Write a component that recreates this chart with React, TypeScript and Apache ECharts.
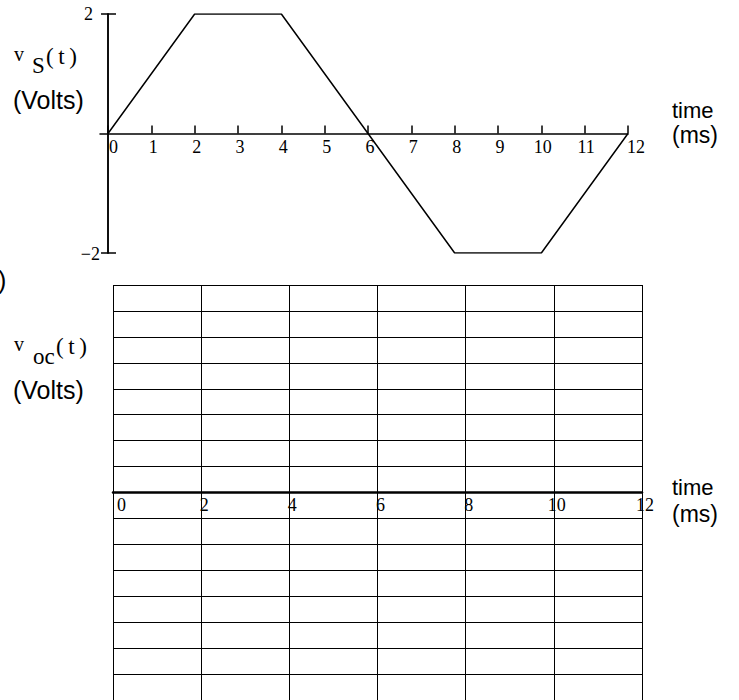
import React, { useEffect, useRef } from "react";
import * as echarts from "echarts";

// Source waveform v_S(t): trapezoid wave, time in ms, volts
const waveTime = [0, 2, 4, 8, 10, 12];
const waveVolts = [0, 2, 2, -2, -2, 0];

// Tick values
const topTimeTicks = [0, 1, 2, 3, 4, 5, 6, 7, 8, 9, 10, 11, 12];
const topVoltTicks = [-2, 2];
const gridTimeMin = 0;
const gridTimeMax = 12;
const gridTimeStep = 2;
const gridRowMin = -8;
const gridRowMax = 8;

const SERIF = '"Liberation Serif", "Times New Roman", serif';
const SANS = '"Liberation Sans", Arial, Helvetica, sans-serif';

// Layout of the upper plot
const TOP = { left: 100, top: 14, width: 528, height: 239 };
const TIME_LEAD = -0.185; // time axis runs a little past t = 0 on the left
const VOLT_MIN = -2;
const VOLT_MAX = 2;
// Layout of the lower (blank) grid
const BOT = { left: 113, top: 285, width: 529, height: 416 };

const tickText = { fontFamily: SERIF, fontSize: 18, color: "#000" };

export default function App() {
  const ref = useRef<HTMLDivElement>(null);

  useEffect(() => {
    if (!ref.current) return;
    const chart = echarts.init(ref.current, null, { renderer: "svg" });

    // pixel shifts that put each axis on the zero of the other one
    const yAxisShift = (-TIME_LEAD / (12 - TIME_LEAD)) * TOP.width;
    const xAxisShift = (VOLT_MIN / (VOLT_MIN - VOLT_MAX)) * TOP.height;
    const gridAxisShift = (gridRowMin / (gridRowMin - gridRowMax)) * BOT.height;

    const text = (t: string, x: number, y: number, size: number, family: string) => ({
      type: "text",
      x,
      y,
      style: {
        text: t,
        fontSize: size,
        fontFamily: family,
        fill: "#000",
        align: "left",
        verticalAlign: "middle",
        textAlign: "left",
        textVerticalAlign: "middle",
      },
    });

    const line = { color: "#000", width: 1.5 };

    chart.setOption({
      animation: false,
      backgroundColor: "#fff",
      grid: [TOP, BOT],
      xAxis: [
        {
          gridIndex: 0,
          type: "value",
          position: "bottom",
          min: TIME_LEAD,
          max: 12,
          offset: -xAxisShift,
          axisLine: { onZero: false, lineStyle: line },
          axisTick: { inside: true, length: 8, customValues: topTimeTicks, lineStyle: line },
          axisLabel: {
            customValues: topTimeTicks,
            margin: 4,
            align: "center",
            formatter: (v: number) => {
              if (v === 0) return `{z|${v}}`;
              if (v === 12) return `{e|${v}}`;
              return v >= 10 ? `{w|${v}}` : `{d|${v}}`;
            },
            rich: {
              z: { ...tickText, padding: [0, 0, 0, 11] },
              d: { ...tickText, padding: [0, 0, 0, 4] },
              w: { ...tickText, padding: [0, 0, 0, 3] },
              e: { ...tickText, padding: [0, 0, 0, 16] },
            },
          },
          splitLine: { show: false },
        },
        {
          gridIndex: 1,
          type: "value",
          position: "bottom",
          min: gridTimeMin,
          max: gridTimeMax,
          interval: gridTimeStep,
          offset: -gridAxisShift,
          axisLine: { onZero: false, lineStyle: { color: "#000", width: 2.5 } },
          axisTick: { show: false },
          axisLabel: {
            margin: 4,
            align: "center",
            formatter: (v: number) => (v === 0 ? `{z|${v}}` : `{d|${v}}`),
            rich: {
              z: { ...tickText, padding: [0, 0, 0, 17] },
              d: { ...tickText, padding: [0, 0, 0, 6] },
            },
          },
          splitLine: { show: true, lineStyle: { color: "#000", width: 1 } },
        },
      ],
      yAxis: [
        {
          gridIndex: 0,
          type: "value",
          position: "left",
          min: VOLT_MIN,
          max: VOLT_MAX,
          offset: -yAxisShift,
          axisLine: { onZero: false, lineStyle: line },
          axisTick: { length: 7, customValues: topVoltTicks, lineStyle: line },
          axisLabel: {
            customValues: topVoltTicks,
            margin: 8,
            align: "right",
            formatter: (v: number) => (v < 0 ? `{n|\u2212${Math.abs(v)}}` : `{p|${v}}`),
            rich: {
              p: { ...tickText, padding: [0, 7, 0, 0] },
              n: { ...tickText, padding: [2, 0, 0, 0] },
            },
          },
          splitLine: { show: false },
        },
        {
          gridIndex: 0,
          type: "value",
          position: "left",
          min: VOLT_MIN,
          max: VOLT_MAX,
          offset: -yAxisShift,
          axisLine: { onZero: false, lineStyle: line },
          axisTick: { inside: true, length: 8, customValues: topVoltTicks, lineStyle: line },
          axisLabel: { show: false },
          splitLine: { show: false },
        },
        {
          gridIndex: 1,
          type: "value",
          position: "left",
          min: gridRowMin,
          max: gridRowMax,
          interval: 1,
          axisLine: { show: false },
          axisTick: { show: false },
          axisLabel: { show: false },
          splitLine: { show: true, lineStyle: { color: "#000", width: 1 } },
        },
      ],
      series: [
        {
          type: "line",
          xAxisIndex: 0,
          yAxisIndex: 0,
          data: waveTime.map((t, i) => [t, waveVolts[i]]),
          symbol: "none",
          lineStyle: line,
          silent: true,
        },
      ],
      graphic: [
        // v_S(t) label
        text("v", 14, 54, 20, SERIF),
        text("S", 32, 65, 23, SERIF),
        text("(\u2009t\u2009)", 46, 56, 23, SERIF),
        text("(Volts)", 13, 100, 25, SANS),
        text("time", 672, 110, 22, SANS),
        text("(ms)", 672, 135, 23, SANS),
        text(")", -2, 280, 25, SANS),
        // v_oc(t) label
        text("v", 14, 344, 20, SERIF),
        text("oc", 33, 356, 23, SERIF),
        text("(\u2009t\u2009)", 56, 346, 23, SERIF),
        text("(Volts)", 13, 390, 25, SANS),
        text("time", 672, 487, 22, SANS),
        text("(ms)", 672, 514, 23, SANS),
      ],
    });

    return () => chart.dispose();
  }, []);

  return (
    <div
      ref={ref}
      style={{ position: "absolute", left: 0, top: 0, width: 739, height: 700 }}
    />
  );
}
